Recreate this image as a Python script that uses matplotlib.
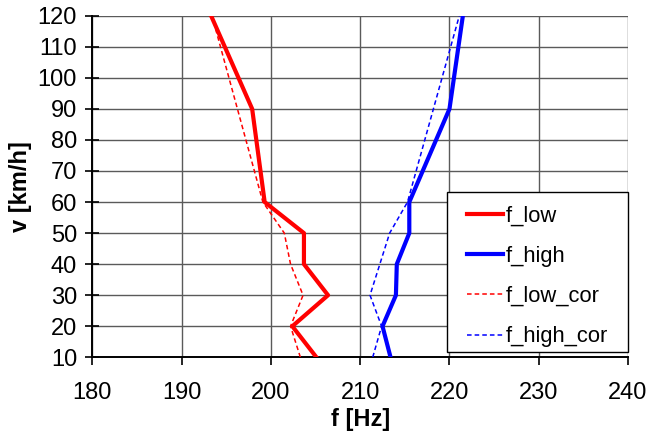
import matplotlib
matplotlib.use("Agg")
import matplotlib.pyplot as plt
from matplotlib.patches import Rectangle, Shadow

plt.rcParams['font.family'] = ['Liberation Sans', 'DejaVu Sans']

# speed levels (km/h) and measured / corrected frequencies (Hz)
v_low = [10, 20, 30, 40, 50, 60, 90, 120]
f_low = [205.1, 202.4, 206.4, 203.7, 203.7, 199.3, 197.9, 193.3]

v_low_cor = [10, 20, 30, 40, 50, 60, 120]
f_low_cor = [203.3, 202.2, 203.6, 202.2, 201.5, 199.1, 193.4]

v_high = [10, 20, 30, 40, 50, 60, 90, 120]
f_high = [213.4, 212.5, 214.0, 214.1, 215.5, 215.5, 220.0, 221.5]

v_high_cor = [10, 20, 30, 40, 50, 60, 120]
f_high_cor = [211.4, 212.4, 211.1, 212.2, 213.3, 215.3, 221.1]

x_ticks = [180, 190, 200, 210, 220, 230, 240]
y_ticks = [10, 20, 30, 40, 50, 60, 70, 80, 90, 100, 110, 120]

fig = plt.figure(figsize=(6.53, 4.33), dpi=100)
ax = fig.add_axes([0.1414, 0.1748, 0.8204, 0.7889])

ax.plot(f_low, v_low, color='#ff0000', lw=3.0, label='f_low', zorder=4)
ax.plot(f_high, v_high, color='#0000ff', lw=3.0, label='f_high', zorder=4)
ax.plot(f_low_cor, v_low_cor, color='#ff0000', lw=1.1,
        linestyle=(0, (3, 2)), label='f_low_cor', zorder=3)
ax.plot(f_high_cor, v_high_cor, color='#0000ff', lw=1.1,
        linestyle=(0, (3, 2)), label='f_high_cor', zorder=3)

ax.set_xlim(180, 240)
ax.set_ylim(10, 120)
ax.set_xticks(x_ticks)
ax.set_yticks(y_ticks)
ax.grid(True, color='#5a5a5a', lw=1.0, zorder=0)
ax.set_axisbelow(True)

for s in ('top', 'right'):
    ax.spines[s].set_visible(False)
for s in ('left', 'bottom'):
    ax.spines[s].set_linewidth(1.4)
    ax.spines[s].set_color('black')

ax.tick_params(axis='x', direction='out', length=6, width=1.2, pad=12,
               labelsize=17)
ax.tick_params(axis='y', direction='inout', length=10, width=1.2, pad=6,
               labelsize=17)

ax.set_xlabel('f [Hz]', fontsize=17, fontweight='bold', labelpad=3)
ax.set_ylabel('v [km/h]', fontsize=17, fontweight='bold', labelpad=4)

# legend box: white panel with a thin drop shadow
box = Rectangle((0.6616, 0.016), 0.3384, 0.467, transform=ax.transAxes,
                facecolor='white', edgecolor='black', lw=1.0, zorder=9,
                clip_on=False)
shadow = Shadow(box, 2, -2, color='#909090', alpha=0.7, zorder=8.9)
shadow.set_clip_on(False)
ax.add_patch(shadow)
ax.add_patch(box)

leg = ax.legend(loc='upper left', bbox_to_anchor=(0.699, 0.443),
                borderaxespad=0, borderpad=0, fontsize=15.8,
                handlelength=1.65, handletextpad=0.12, labelspacing=0.87,
                frameon=False)
leg.set_zorder(10)

fig.savefig('out.png', dpi=100)
